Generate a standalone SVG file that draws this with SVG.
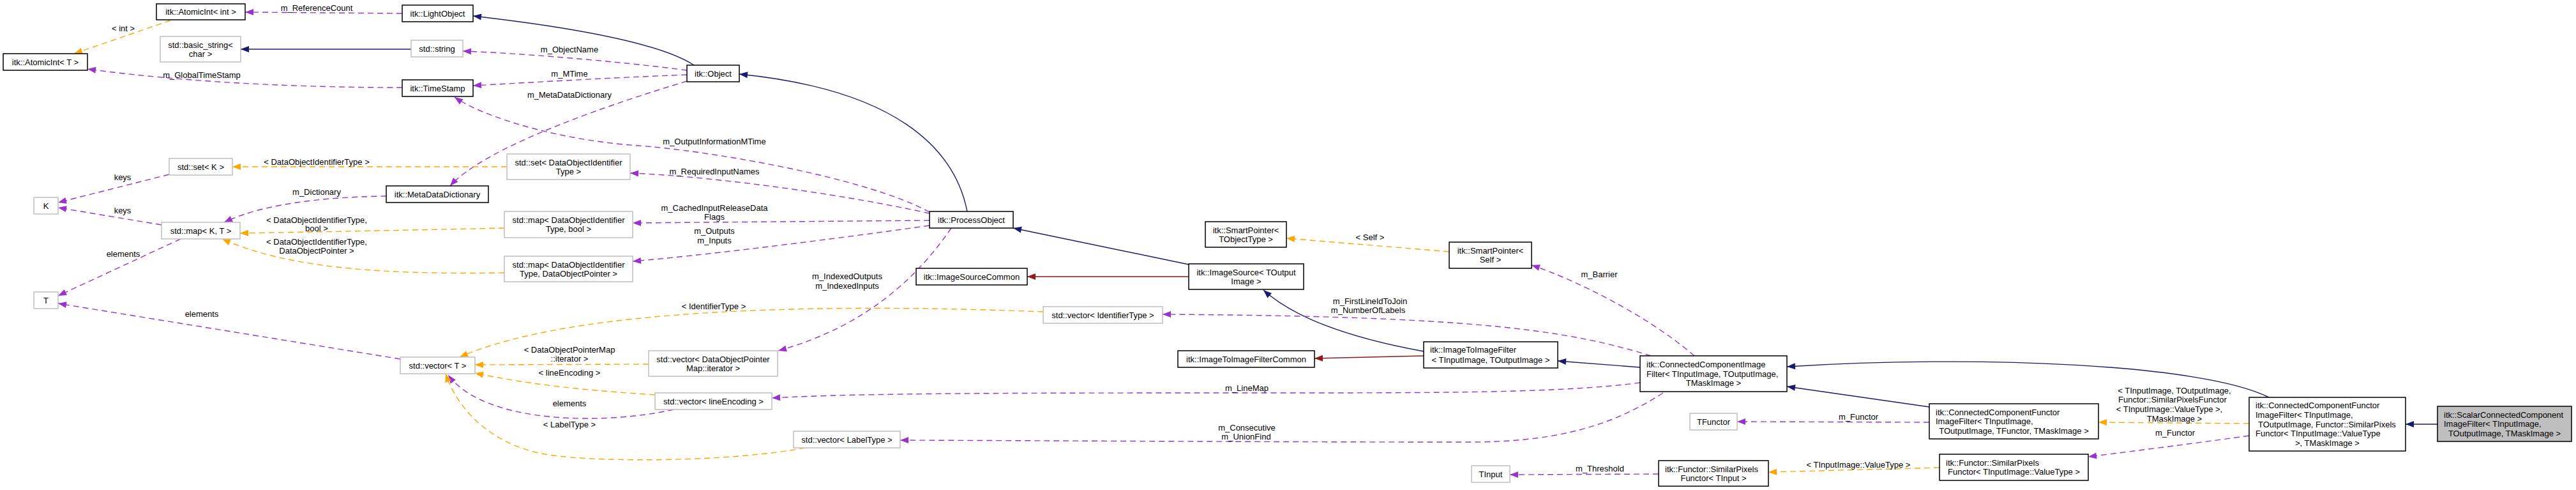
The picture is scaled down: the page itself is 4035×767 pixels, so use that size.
<svg xmlns="http://www.w3.org/2000/svg" width="4035" height="767" viewBox="0 0 4035 767">
<style>
text{font-family:"Liberation Sans",Arial,Helvetica,sans-serif;font-size:13px;fill:#000}
.c{text-anchor:middle}
.n rect{fill:#fff;stroke:#000;stroke-width:1.5}
.g rect{fill:#fff;stroke:#bfbfbf;stroke-width:1.5}
.r rect{fill:#bfbfbf;stroke:#000;stroke-width:1.5}
.e path{fill:none;stroke-width:1.4}
.nv{stroke:#191970;marker-end:url(#aN)}
.rd{stroke:#8b1a1a;marker-end:url(#aR)}
.pu{stroke:#9a32cd;stroke-dasharray:9,6;marker-end:url(#aP)}
.or{stroke:#ffa500;stroke-dasharray:9,6;marker-end:url(#aO)}
</style>
<defs>
<marker id="aN" markerUnits="userSpaceOnUse" markerWidth="14" markerHeight="10" refX="13" refY="5" orient="auto" overflow="visible"><path d="M0,0 L13,5 L0,10 z" fill="#191970"/></marker>
<marker id="aR" markerUnits="userSpaceOnUse" markerWidth="14" markerHeight="10" refX="13" refY="5" orient="auto" overflow="visible"><path d="M0,0 L13,5 L0,10 z" fill="#8b1a1a"/></marker>
<marker id="aP" markerUnits="userSpaceOnUse" markerWidth="14" markerHeight="10" refX="13" refY="5" orient="auto" overflow="visible"><path d="M0,0 L13,5 L0,10 z" fill="#9a32cd"/></marker>
<marker id="aO" markerUnits="userSpaceOnUse" markerWidth="14" markerHeight="10" refX="13" refY="5" orient="auto" overflow="visible"><path d="M0,0 L13,5 L0,10 z" fill="#ffa500"/></marker>
</defs>
<rect width="4035" height="767" fill="#fff"/>
<g id="connectors" class="e">
<path class="nv" d="M1087,102 C1050,78 960,50 741,25"/>
<path class="nv" d="M644,77 L377,77"/>
<path class="nv" d="M1515,331 C1495,230 1400,140 1158,116"/>
<path class="nv" d="M1862,414 L1587,357"/>
<path class="nv" d="M2230,550 C2120,530 2030,500 1979,454"/>
<path class="nv" d="M2569,575 L2440,565"/>
<path class="nv" d="M3022,637 L2799,605"/>
<path class="nv" d="M3554,622 C3450,570 3100,555 2799,574"/>
<path class="nv" d="M3818,664 L3768,664"/>
<path class="rd" d="M1862,433 L1609,433"/>
<path class="rd" d="M2230,557 L2059,561"/>
<path class="pu" d="M630,21 L384,19"/>
<path class="pu" d="M1076,110 C1000,100 850,85 725,80"/>
<path class="pu" d="M1076,117 C950,122 850,128 741,134"/>
<path class="pu" d="M630,137 C480,137 300,130 137,108"/>
<path class="pu" d="M1076,127 C950,165 760,230 705,291"/>
<path class="pu" d="M1456,332 C1350,275 1100,235 1000,228 C880,220 760,185 712,152"/>
<path class="pu" d="M1456,334 C1300,300 1100,275 987,271"/>
<path class="pu" d="M1456,345 L991,349"/>
<path class="pu" d="M1456,353 C1300,375 1100,400 991,409"/>
<path class="pu" d="M1490,357 C1440,430 1360,510 1219,549"/>
<path class="pu" d="M2586,557 C2450,515 2300,495 1821,492"/>
<path class="pu" d="M2654,557 C2581,494 2468,438 2399,415"/>
<path class="pu" d="M2569,599 C2450,615 2250,615 2000,615 C1600,615 1350,615 1209,623"/>
<path class="pu" d="M2605,615 C2520,670 2430,692 2300,692 C2000,692 1700,690 1410,689"/>
<path class="pu" d="M3022,661 L2721,660"/>
<path class="pu" d="M3523,682 C3430,695 3350,705 3271,715"/>
<path class="pu" d="M2598,742 L2365,743"/>
<path class="pu" d="M605,307 C530,308 420,315 351,348"/>
<path class="pu" d="M265,273 L91,317"/>
<path class="pu" d="M253,352 L91,325"/>
<path class="pu" d="M283,374 L91,463"/>
<path class="pu" d="M627,562 L91,475"/>
<path class="pu" d="M1055,641 C950,665 760,665 702,587"/>
<path class="or" d="M267,32 L116,84"/>
<path class="or" d="M794,261 L364,261"/>
<path class="or" d="M790,357 C650,360 500,363 376,365"/>
<path class="or" d="M790,427 C600,430 450,420 348,374"/>
<path class="or" d="M1634,488 C1300,475 900,480 720,559"/>
<path class="or" d="M1016,570 L744,571"/>
<path class="or" d="M1026,618 C900,610 820,600 744,584"/>
<path class="or" d="M1261,701 C1150,722 950,725 860,712 C780,700 720,650 698,585"/>
<path class="or" d="M2270,394 L2015,373"/>
<path class="or" d="M3523,663 L3287,661"/>
<path class="or" d="M3038,732 L2770,739"/>
</g>
<g id="edge-labels" class="c">
<text x="496" y="16.5">m_ReferenceCount</text>
<text x="193" y="48.5">&lt; int &gt;</text>
<text x="892" y="81.5">m_ObjectName</text>
<text x="316" y="121.5">m_GlobalTimeStamp</text>
<text x="892" y="119.5">m_MTime</text>
<text x="892" y="152.5">m_MetaDataDictionary</text>
<text x="496" y="257.5">&lt; DataObjectIdentifierType &gt;</text>
<text x="1119" y="225.5">m_OutputInformationMTime</text>
<text x="192" y="281.5">keys</text>
<text x="496" y="304.5">m_Dictionary</text>
<text x="192" y="333.5">keys</text>
<text x="496" y="348.5">&lt; DataObjectIdentifierType,</text>
<text x="496" y="361.5">bool &gt;</text>
<text x="496" y="382.5">&lt; DataObjectIdentifierType,</text>
<text x="496" y="396.5">DataObjectPointer &gt;</text>
<text x="193" y="401.5">elements</text>
<text x="316" y="495.5">elements</text>
<text x="1119" y="272.5">m_RequiredInputNames</text>
<text x="1119" y="329.5">m_CachedInputReleaseData</text>
<text x="1119" y="343.5">Flags</text>
<text x="1119" y="365.5">m_Outputs</text>
<text x="1119" y="380.5">m_Inputs</text>
<text x="1327" y="436.5">m_IndexedOutputs</text>
<text x="1327" y="451.5">m_IndexedInputs</text>
<text x="1118" y="483.5">&lt; IdentifierType &gt;</text>
<text x="2146" y="375.5">&lt; Self &gt;</text>
<text x="2505" y="433.5">m_Barrier</text>
<text x="2146" y="475.5">m_FirstLineIdToJoin</text>
<text x="2143" y="489.5">m_NumberOfLabels</text>
<text x="892" y="551.5">&lt; DataObjectPointerMap</text>
<text x="892" y="565.5">::iterator &gt;</text>
<text x="892" y="587.5">&lt; lineEncoding &gt;</text>
<text x="892" y="635.5">elements</text>
<text x="892" y="668.5">&lt; LabelType &gt;</text>
<text x="1953" y="611.5">m_LineMap</text>
<text x="1953" y="673.5">m_Consecutive</text>
<text x="1952" y="687.5">m_UnionFind</text>
<text x="2911" y="656.5">m_Functor</text>
<text x="2506" y="737.5">m_Threshold</text>
<text x="2911" y="731.5">&lt; TInputImage::ValueType &gt;</text>
<text x="3406" y="615.5">&lt; TInputImage, TOutputImage,</text>
<text x="3403" y="629.5">Functor::SimilarPixelsFunctor</text>
<text x="3398" y="644.5">&lt; TInputImage::ValueType &gt;,</text>
<text x="3406" y="659.5">TMaskImage &gt;</text>
<text x="3407" y="681.5">m_Functor</text>
</g>
<g id="n1" class="n"><rect x="245" y="6" width="139" height="25"/><text class="c" x="314.5" y="23">itk::AtomicInt&lt; int &gt;</text></g>
<g id="n2" class="n"><rect x="630" y="8" width="111" height="26"/><text class="c" x="685.5" y="25.5">itk::LightObject</text></g>
<g id="n3" class="n"><rect x="5" y="84" width="132" height="26"/><text class="c" x="71" y="101.5">itk::AtomicInt&lt; T &gt;</text></g>
<g id="n4" class="g"><rect x="251" y="57" width="126" height="40"/><text class="c" x="314" y="74.5">std::basic_string&lt;</text><text class="c" x="314" y="88.5">char &gt;</text></g>
<g id="n5" class="g"><rect x="644" y="63" width="81" height="26"/><text class="c" x="684.5" y="80.5">std::string</text></g>
<g id="n6" class="n"><rect x="630" y="125" width="111" height="26"/><text class="c" x="685.5" y="142.5">itk::TimeStamp</text></g>
<g id="n7" class="n"><rect x="1076" y="102" width="82" height="26"/><text class="c" x="1117" y="119.5">itk::Object</text></g>
<g id="n8" class="g"><rect x="265" y="248" width="99" height="26"/><text class="c" x="314.5" y="265.5">std::set&lt; K &gt;</text></g>
<g id="n9" class="g"><rect x="53" y="309" width="38" height="26"/><text class="c" x="72" y="326.5">K</text></g>
<g id="n10" class="n"><rect x="605" y="291" width="160" height="26"/><text class="c" x="685" y="308.5">itk::MetaDataDictionary</text></g>
<g id="n11" class="g"><rect x="253" y="348" width="123" height="26"/><text class="c" x="314.5" y="365.5">std::map&lt; K, T &gt;</text></g>
<g id="n12" class="g"><rect x="794" y="241" width="193" height="40"/><text class="c" x="890.5" y="258.5">std::set&lt; DataObjectIdentifier</text><text class="c" x="890.5" y="272.5">Type &gt;</text></g>
<g id="n13" class="g"><rect x="790" y="331" width="201" height="41"/><text class="c" x="890.5" y="349">std::map&lt; DataObjectIdentifier</text><text class="c" x="890.5" y="363">Type, bool &gt;</text></g>
<g id="n14" class="g"><rect x="790" y="401" width="201" height="40"/><text class="c" x="890.5" y="418.5">std::map&lt; DataObjectIdentifier</text><text class="c" x="890.5" y="432.5">Type, DataObjectPointer &gt;</text></g>
<g id="n15" class="g"><rect x="53" y="457" width="38" height="26"/><text class="c" x="72" y="474.5">T</text></g>
<g id="n16" class="n"><rect x="1456" y="331" width="131" height="26"/><text class="c" x="1521.5" y="348.5">itk::ProcessObject</text></g>
<g id="n17" class="n"><rect x="1435" y="420" width="174" height="26"/><text class="c" x="1522" y="437.5">itk::ImageSourceCommon</text></g>
<g id="n18" class="n"><rect x="1888" y="347" width="127" height="40"/><text class="c" x="1951.5" y="364.5">itk::SmartPointer&lt;</text><text class="c" x="1951.5" y="378.5">TObjectType &gt;</text></g>
<g id="n19" class="n"><rect x="1862" y="413" width="180" height="40"/><text class="c" x="1952" y="430.5">itk::ImageSource&lt; TOutput</text><text class="c" x="1952" y="444.5">Image &gt;</text></g>
<g id="n20" class="g"><rect x="1634" y="480" width="187" height="26"/><text class="c" x="1727.5" y="497.5">std::vector&lt; IdentifierType &gt;</text></g>
<g id="n21" class="n"><rect x="2270" y="379" width="129" height="41"/><text class="c" x="2334.5" y="397">itk::SmartPointer&lt;</text><text class="c" x="2334.5" y="411">Self &gt;</text></g>
<g id="n22" class="g"><rect x="627" y="559" width="117" height="26"/><text class="c" x="685.5" y="576.5">std::vector&lt; T &gt;</text></g>
<g id="n23" class="g"><rect x="1016" y="549" width="202" height="40"/><text class="c" x="1117" y="566.5">std::vector&lt; DataObjectPointer</text><text class="c" x="1117" y="580.5">Map::iterator &gt;</text></g>
<g id="n24" class="g"><rect x="1026" y="615" width="183" height="26"/><text class="c" x="1117.5" y="632.5">std::vector&lt; lineEncoding &gt;</text></g>
<g id="n25" class="g"><rect x="1243" y="675" width="167" height="26"/><text class="c" x="1326.5" y="692.5">std::vector&lt; LabelType &gt;</text></g>
<g id="n26" class="n"><rect x="1845" y="549" width="214" height="26"/><text class="c" x="1952" y="566.5">itk::ImageToImageFilterCommon</text></g>
<g id="n27" class="n"><rect x="2230" y="535" width="210" height="41"/><text x="2240" y="552">itk::ImageToImageFilter</text><text class="c" x="2335" y="567.5">&lt; TInputImage, TOutputImage &gt;</text></g>
<g id="n28" class="n"><rect x="2569" y="557" width="230" height="56"/><text x="2579" y="575">itk::ConnectedComponentImage</text><text x="2579" y="589.5">Filter&lt; TInputImage, TOutputImage,</text><text class="c" x="2684" y="604">TMaskImage &gt;</text></g>
<g id="n29" class="g"><rect x="2647" y="647" width="74" height="26"/><text class="c" x="2684" y="664.5">TFunctor</text></g>
<g id="n30" class="g"><rect x="2305" y="729" width="60" height="26"/><text class="c" x="2335" y="746.5">TInput</text></g>
<g id="n31" class="n"><rect x="2598" y="721" width="172" height="40"/><text x="2608" y="738.5">itk::Functor::SimilarPixels</text><text class="c" x="2684" y="752.5">Functor&lt; TInput &gt;</text></g>
<g id="n32" class="n"><rect x="3022" y="632" width="265" height="55"/><text x="3032" y="649.5">itk::ConnectedComponentFunctor</text><text x="3032" y="664">ImageFilter&lt; TInputImage,</text><text class="c" x="3154.5" y="678.5">TOutputImage, TFunctor, TMaskImage &gt;</text></g>
<g id="n33" class="n"><rect x="3038" y="711" width="233" height="41"/><text x="3048" y="729">itk::Functor::SimilarPixels</text><text class="c" x="3154.5" y="743">Functor&lt; TInputImage::ValueType &gt;</text></g>
<g id="n34" class="n"><rect x="3523" y="622" width="245" height="84"/><text x="3533" y="639">itk::ConnectedComponentFunctor</text><text x="3533" y="653.5">ImageFilter&lt; TInputImage,</text><text x="3537" y="668.5">TOutputImage, Functor::SimilarPixels</text><text x="3533" y="683">Functor&lt; TInputImage::ValueType</text><text class="c" x="3645.5" y="698">&gt;, TMaskImage &gt;</text></g>
<g id="n35" class="r"><rect x="3818" y="636" width="210" height="55"/><text x="3828" y="653.5">itk::ScalarConnectedComponent</text><text x="3828" y="668">ImageFilter&lt; TInputImage,</text><text class="c" x="3923" y="682.5">TOutputImage, TMaskImage &gt;</text></g>
</svg>
